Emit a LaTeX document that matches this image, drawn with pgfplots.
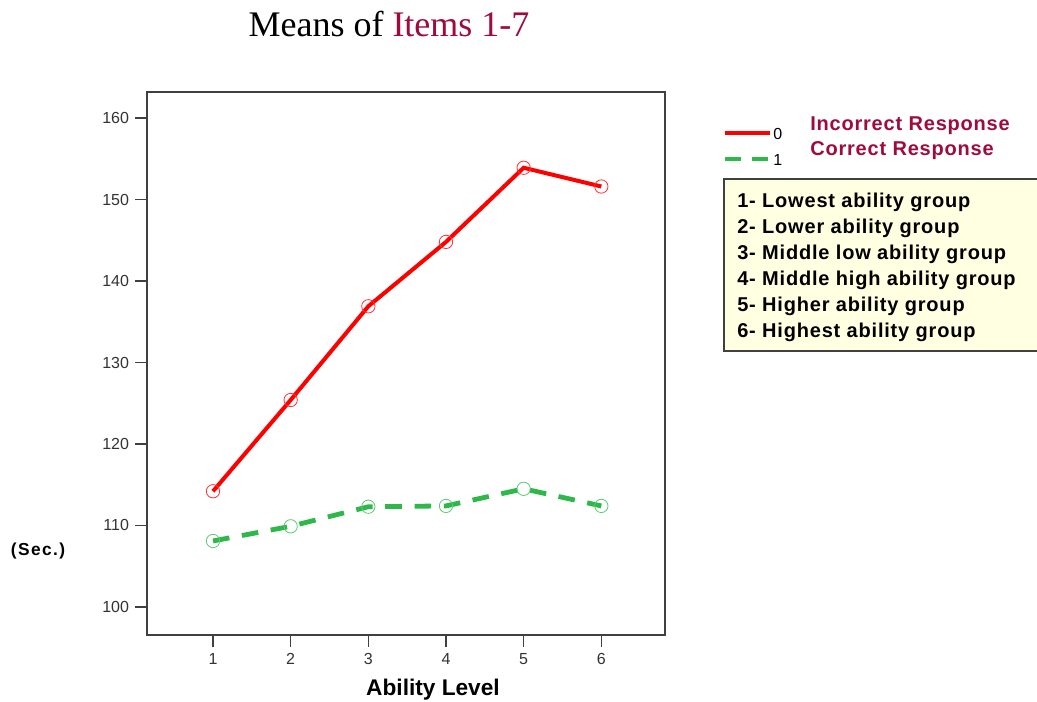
\documentclass[border=0pt]{standalone}
\usepackage{fontspec}
\setmainfont{Liberation Sans}
\newfontfamily\titlefont{Liberation Serif}
\newfontfamily\legfont[LetterSpace=4]{Liberation Sans}
\newfontfamily\secfont[LetterSpace=8]{Liberation Sans}
\usepackage{pgfplots}
\pgfplotsset{compat=1.18}
\definecolor{crimson}{HTML}{9E0B3C}
\definecolor{myred}{HTML}{FF0000}
\definecolor{mygreen}{HTML}{2EB84A}
\definecolor{mygreenmark}{HTML}{5CCB72}
\definecolor{boxfill}{HTML}{FFFFE1}
\definecolor{axisgray}{HTML}{404040}
\newcommand\px[2]{({(#1)*0.75pt},{(702-(#2))*0.75pt})}
\begin{document}
\begin{tikzpicture}
\clip (0,0) rectangle (777.75pt,526.5pt);
\fill[white] (0,0) rectangle (777.75pt,526.5pt);
\begin{axis}[
  at={(110.25pt,50.25pt)}, anchor=south west,
  scale only axis, width=388.5pt, height=407.25pt,
  xmin=0.15, xmax=6.82, ymin=96.56, ymax=163.2,
  xtick={1,2,3,4,5,6}, ytick={100,110,120,130,140,150,160},
  tick align=outside, tick pos=left,
  major tick length=9pt,
  axis line style={axisgray, line width=1.2pt},
  every tick/.style={axisgray, line width=1pt},
  tick label style={font=\fontsize{12}{14}\selectfont, text=black!80},
  /pgf/number format/assume math mode=true,
  xticklabel style={yshift=-1pt},
  yticklabel style={xshift=-1pt},
  clip=false,
]
\addplot[myred, line width=3pt, mark=o, mark size=5pt,
  mark options={solid, line width=0.6pt, draw=myred!80, fill=none}]
  coordinates {(1,114.2) (2,125.4) (3,136.9) (4,144.8) (5,153.9) (6,151.6)};
\addplot[mygreen, line width=3.6pt, dash pattern=on 12.5pt off 9.5pt, mark=o, mark size=5pt,
  mark options={solid, line width=0.6pt, draw=mygreenmark, fill=none}]
  coordinates {(1,108.1) (2,109.9) (3,112.3) (4,112.4) (5,114.5) (6,112.4)};
\end{axis}
% title
\node[anchor=center, font=\titlefont\fontsize{27}{30}\selectfont] at \px{389}{24}
  {Means of \textcolor{crimson}{Items 1-7}};
% y label
\node[anchor=center, font=\secfont\bfseries\fontsize{13}{15}\selectfont] at \px{38}{551} {(Sec.)};
% x label
\node[anchor=center, font=\bfseries\fontsize{17}{19}\selectfont] at \px{433}{690} {Ability Level};
% legend samples
\draw[myred, line width=3pt] \px{725}{133} -- \px{770}{133};
\node[anchor=west, font=\fontsize{12}{14}\selectfont, inner sep=0pt] at \px{773}{134} {0};
\draw[mygreen, line width=3.6pt, dash pattern=on 12pt off 8pt] \px{725}{159} -- \px{770}{159};
\node[anchor=west, font=\fontsize{12}{14}\selectfont, inner sep=0pt] at \px{773}{160} {1};
\node[anchor=west, font=\legfont\bfseries\fontsize{15}{17}\selectfont, text=crimson, inner sep=0pt] at \px{810}{126} {Incorrect Response};
\node[anchor=west, font=\legfont\bfseries\fontsize{15}{17}\selectfont, text=crimson, inner sep=0pt] at \px{810}{151} {Correct Response};
% group box
\draw[fill=boxfill, draw=axisgray, line width=1.1pt] \px{724}{179} rectangle \px{1045}{351};
\foreach \t [count=\i] in {1- Lowest ability group, 2- Lower ability group, 3- Middle low ability group, 4- Middle high ability group, 5- Higher ability group, 6- Highest ability group}{
  \node[anchor=west, font=\legfont\bfseries\fontsize{15}{17}\selectfont, inner sep=0pt] at \px{737}{176+26*\i} {\t};
}
\end{tikzpicture}
\end{document}
